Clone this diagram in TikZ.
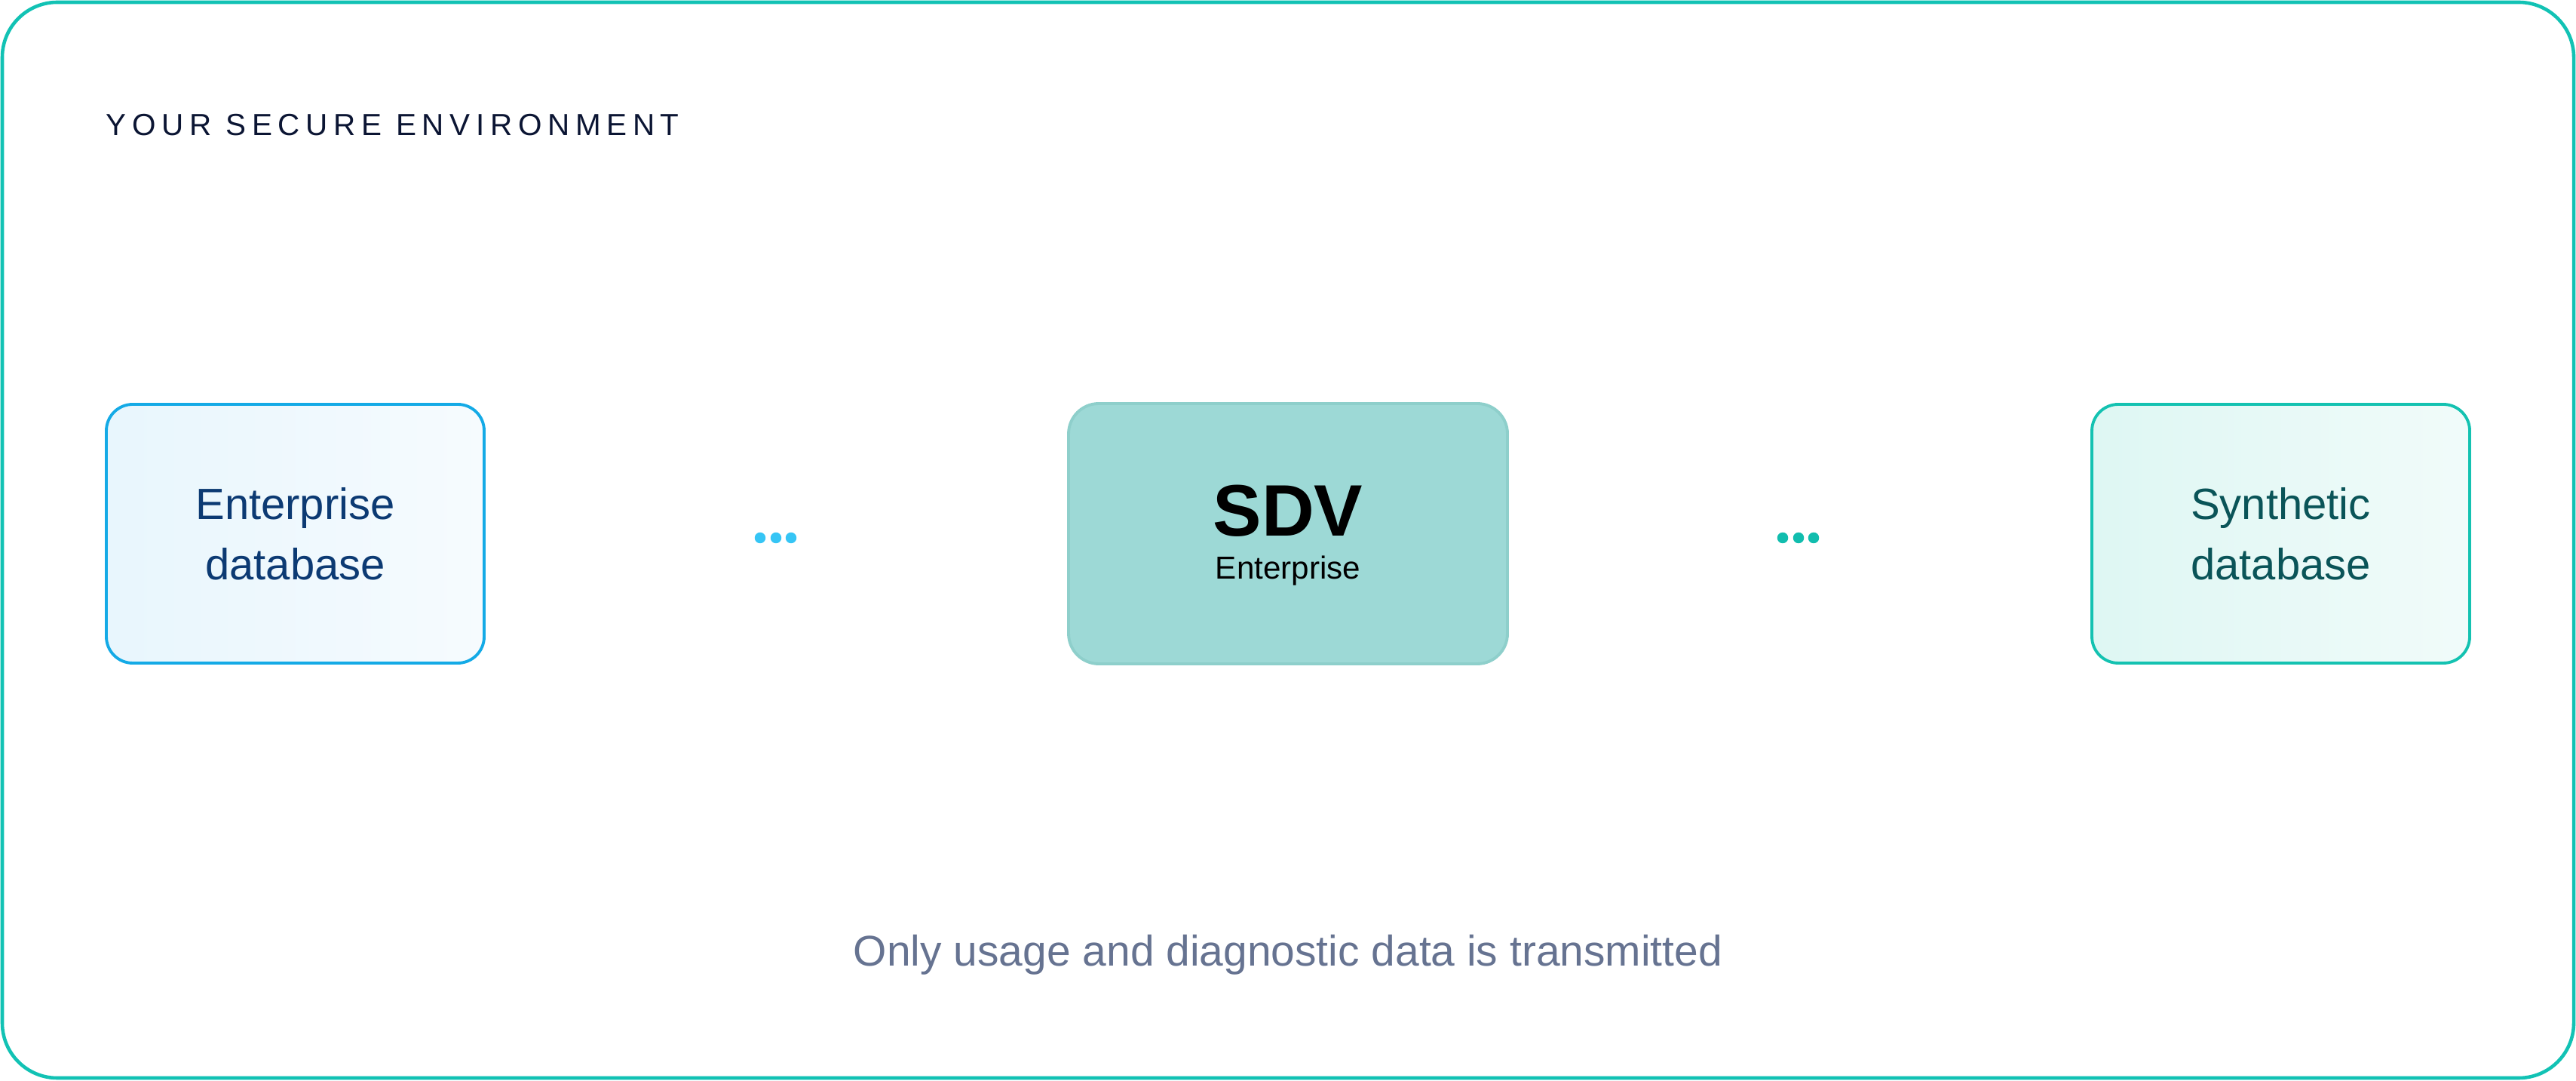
\documentclass[tikz,border=0pt]{standalone}
\usepackage{fontspec}
\setmainfont{Liberation Sans}
\newfontfamily\spacedfont[LetterSpace=19]{Liberation Sans}
\usepackage{tikz}
\usetikzlibrary{positioning}
\usepackage{xcolor}
\definecolor{secureTeal}{RGB}{18, 194, 180}
\definecolor{titleNavy}{RGB}{11, 21, 51}
\definecolor{sourceBlue}{RGB}{20, 170, 230}
\definecolor{sourceFillA}{RGB}{232, 246, 253}
\definecolor{sourceFillB}{RGB}{246, 251, 254}
\definecolor{sourceText}{RGB}{12, 58, 115}
\definecolor{dotBlue}{RGB}{54, 197, 245}
\definecolor{coreFill}{RGB}{157, 217, 214}
\definecolor{coreLine}{RGB}{142, 207, 203}
\definecolor{dotTeal}{RGB}{17, 189, 174}
\definecolor{synthLine}{RGB}{20, 194, 177}
\definecolor{synthFillA}{RGB}{222, 247, 243}
\definecolor{synthFillB}{RGB}{241, 251, 250}
\definecolor{synthText}{RGB}{10, 84, 88}
\definecolor{noteGray}{RGB}{102, 115, 145}

\begin{document}
\begin{tikzpicture}[
    dbbox/.style={rounded corners=0.35cm, line width=1.1pt, minimum width=5.01cm, minimum height=3.43cm, align=center, font=\fontsize{16.5}{22.8}\selectfont, shading angle=-45},
    dotmark/.style={circle, inner sep=0pt, minimum size=0.145cm}
  ]
  \useasboundingbox (0,0) rectangle (34.16,14.32);
  % secure environment frame
  \draw[secureTeal, line width=1.3pt, rounded corners=0.73cm] (0.03,0.03) rectangle (34.13,14.29);
  \node[font=\spacedfont\fontsize{11.5}{14}\selectfont, text=titleNavy, anchor=base west, inner sep=0pt] (envtitle) at (1.40,12.52) {YOUR SECURE ENVIRONMENT};

  % the three stages
  \node[dbbox, draw=sourceBlue, left color=sourceFillA, right color=sourceFillB, text=sourceText] (source) at (3.915,7.245) {Enterprise\\database};
  \node[draw=coreLine, fill=coreFill, line width=1.1pt, rounded corners=0.4cm, minimum width=5.82cm, minimum height=3.45cm] (sdv) at (17.08,7.245) {};
  \node[font=\fontsize{27.5}{30}\selectfont\bfseries, anchor=base, inner sep=0pt] (sdvname) at (17.08,7.21) {SDV};
  \node[font=\fontsize{12}{14}\selectfont, anchor=base, inner sep=0pt] (sdvsub) at (17.08,6.64) {Enterprise};
  \node[dbbox, draw=synthLine, left color=synthFillA, right color=synthFillB, text=synthText] (synth) at (30.245,7.245) {Synthetic\\database};

  % dotted links
  \foreach \i/\x in {1/10.08, 2/10.29, 3/10.49}
    \node[dotmark, fill=dotBlue] (ldot\i) at (\x,7.19) {};
  \foreach \i/\x in {1/23.64, 2/23.85, 3/24.05}
    \node[dotmark, fill=dotTeal] (rdot\i) at (\x,7.19) {};

  \node[font=\fontsize{16.2}{19}\selectfont, text=noteGray, anchor=base, inner sep=0pt] (note) at (17.08,1.52) {Only usage and diagnostic data is transmitted};
\end{tikzpicture}
\end{document}
